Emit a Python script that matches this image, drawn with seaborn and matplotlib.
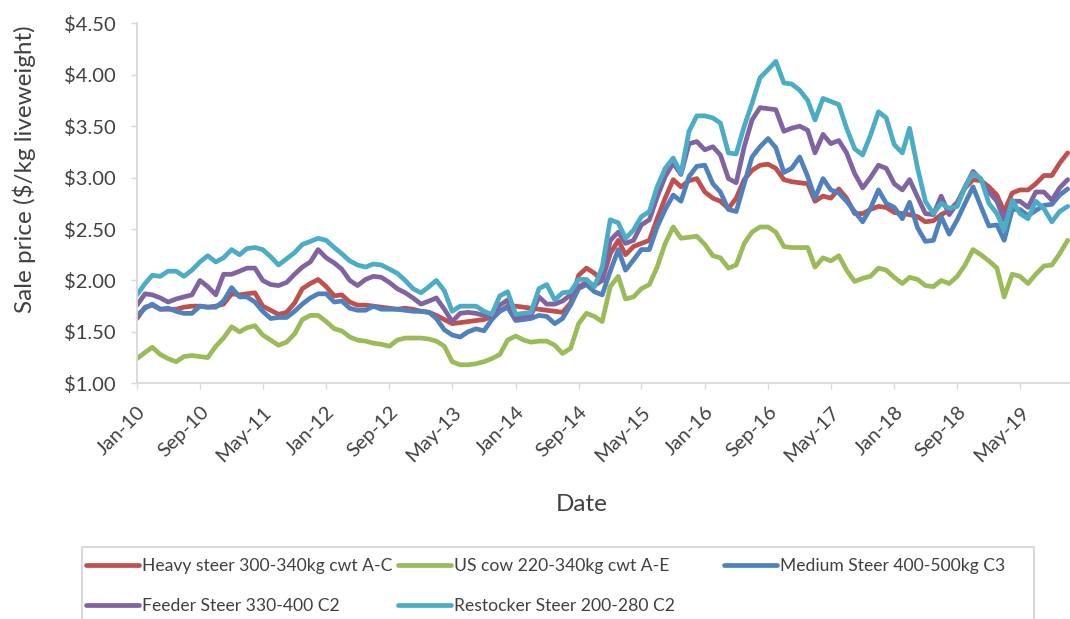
import pandas as pd
import matplotlib
matplotlib.use("Agg")
import matplotlib.pyplot as plt
from matplotlib.patches import Rectangle
import seaborn as sns

# Monthly sale prices ($/kg liveweight), Jan-2010 to Nov-2019
months = pd.date_range("2010-01-01", periods=119, freq="MS")

heavy_steer = [
    1.63, 1.74, 1.76, 1.72, 1.72, 1.72, 1.74, 1.75, 1.75, 1.74,
    1.75, 1.77, 1.87, 1.86, 1.87, 1.88, 1.75, 1.71, 1.67, 1.69,
    1.78, 1.92, 1.97, 2.01, 1.94, 1.85, 1.86, 1.79, 1.76, 1.76,
    1.75, 1.74, 1.73, 1.72, 1.73, 1.72, 1.70, 1.69, 1.66, 1.62,
    1.58, 1.59, 1.60, 1.61, 1.62, 1.65, 1.70, 1.75, 1.75, 1.74,
    1.73, 1.72, 1.71, 1.70, 1.69, 1.78, 2.05, 2.12, 2.07, 2.00,
    2.26, 2.39, 2.25, 2.33, 2.36, 2.39, 2.60, 2.80, 2.98, 2.91,
    2.97, 2.99, 2.86, 2.80, 2.77, 2.70, 2.80, 2.98, 3.07, 3.12,
    3.13, 3.09, 2.98, 2.96, 2.95, 2.94, 2.77, 2.82, 2.80, 2.89,
    2.80, 2.65, 2.65, 2.69, 2.72, 2.71, 2.66, 2.65, 2.64, 2.62,
    2.57, 2.58, 2.64, 2.68, 2.76, 2.90, 2.98, 2.97, 2.91, 2.83,
    2.67, 2.85, 2.88, 2.88, 2.94, 3.02, 3.02, 3.14, 3.24,
]
us_cow = [
    1.24, 1.30, 1.35, 1.28, 1.24, 1.21, 1.26, 1.27, 1.26, 1.25,
    1.36, 1.44, 1.55, 1.50, 1.54, 1.56, 1.47, 1.42, 1.37, 1.40,
    1.48, 1.62, 1.66, 1.66, 1.60, 1.53, 1.51, 1.45, 1.42, 1.41,
    1.39, 1.38, 1.36, 1.42, 1.44, 1.44, 1.44, 1.43, 1.41, 1.36,
    1.21, 1.18, 1.18, 1.19, 1.21, 1.24, 1.28, 1.42, 1.46, 1.42,
    1.40, 1.41, 1.41, 1.37, 1.29, 1.34, 1.58, 1.68, 1.65, 1.60,
    1.94, 2.04, 1.82, 1.84, 1.92, 1.96, 2.13, 2.36, 2.52, 2.41,
    2.42, 2.43, 2.35, 2.24, 2.22, 2.12, 2.15, 2.36, 2.47, 2.52,
    2.52, 2.47, 2.33, 2.32, 2.32, 2.32, 2.13, 2.22, 2.19, 2.24,
    2.10, 1.99, 2.02, 2.04, 2.12, 2.10, 2.03, 1.97, 2.03, 2.01,
    1.95, 1.94, 2.00, 1.97, 2.04, 2.15, 2.30, 2.25, 2.19, 2.12,
    1.84, 2.06, 2.04, 1.97, 2.06, 2.14, 2.15, 2.26, 2.39,
]
medium_steer = [
    1.66, 1.73, 1.77, 1.72, 1.73, 1.70, 1.68, 1.68, 1.75, 1.74,
    1.74, 1.80, 1.93, 1.84, 1.84, 1.79, 1.70, 1.63, 1.64, 1.64,
    1.70, 1.77, 1.83, 1.87, 1.87, 1.79, 1.80, 1.73, 1.71, 1.71,
    1.75, 1.72, 1.72, 1.72, 1.71, 1.70, 1.70, 1.69, 1.63, 1.52,
    1.47, 1.45, 1.50, 1.53, 1.51, 1.62, 1.70, 1.74, 1.61, 1.62,
    1.63, 1.66, 1.65, 1.58, 1.63, 1.76, 1.92, 1.96, 1.89, 1.86,
    2.09, 2.30, 2.10, 2.20, 2.30, 2.30, 2.52, 2.69, 2.83, 2.77,
    3.01, 3.11, 3.12, 2.94, 2.86, 2.69, 2.67, 2.94, 3.20, 3.30,
    3.38, 3.29, 3.05, 3.09, 3.20, 3.01, 2.80, 2.99, 2.88, 2.85,
    2.77, 2.67, 2.57, 2.70, 2.88, 2.75, 2.71, 2.60, 2.76, 2.51,
    2.38, 2.39, 2.62, 2.45, 2.59, 2.75, 2.91, 2.72, 2.53, 2.54,
    2.39, 2.69, 2.69, 2.63, 2.68, 2.73, 2.74, 2.83, 2.89,
]
feeder_steer = [
    1.76, 1.87, 1.86, 1.83, 1.79, 1.82, 1.84, 1.86, 2.00, 1.94,
    1.86, 2.06, 2.06, 2.09, 2.12, 2.12, 2.00, 1.96, 1.95, 1.98,
    2.06, 2.13, 2.18, 2.30, 2.22, 2.17, 2.11, 2.00, 1.95, 2.01,
    2.04, 2.03, 1.98, 1.92, 1.88, 1.83, 1.77, 1.80, 1.83, 1.72,
    1.60, 1.68, 1.69, 1.68, 1.66, 1.65, 1.76, 1.81, 1.63, 1.65,
    1.66, 1.84, 1.77, 1.77, 1.80, 1.86, 1.94, 1.98, 1.95, 2.00,
    2.39, 2.47, 2.36, 2.39, 2.54, 2.59, 2.81, 3.01, 3.14, 3.03,
    3.33, 3.35, 3.27, 3.30, 3.22, 2.99, 2.95, 3.30, 3.56, 3.68,
    3.67, 3.66, 3.45, 3.48, 3.50, 3.46, 3.24, 3.42, 3.33, 3.36,
    3.24, 3.04, 2.90, 3.00, 3.12, 3.09, 2.94, 2.88, 2.98, 2.81,
    2.65, 2.64, 2.82, 2.64, 2.75, 2.91, 3.06, 2.98, 2.86, 2.77,
    2.59, 2.77, 2.77, 2.71, 2.86, 2.86, 2.78, 2.90, 2.98,
]
restocker_steer = [
    1.86, 1.97, 2.05, 2.04, 2.09, 2.09, 2.04, 2.10, 2.18, 2.24,
    2.18, 2.22, 2.30, 2.25, 2.31, 2.32, 2.30, 2.23, 2.15, 2.21,
    2.27, 2.35, 2.38, 2.41, 2.39, 2.32, 2.26, 2.19, 2.15, 2.13,
    2.16, 2.15, 2.11, 2.07, 2.00, 1.92, 1.88, 1.94, 2.00, 1.90,
    1.70, 1.75, 1.75, 1.75, 1.70, 1.67, 1.85, 1.89, 1.67, 1.68,
    1.69, 1.92, 1.96, 1.81, 1.88, 1.89, 2.01, 2.01, 1.94, 2.13,
    2.59, 2.56, 2.41, 2.49, 2.62, 2.67, 2.91, 3.09, 3.19, 3.04,
    3.45, 3.60, 3.60, 3.58, 3.53, 3.24, 3.23, 3.50, 3.72, 3.97,
    4.05, 4.13, 3.92, 3.91, 3.85, 3.75, 3.56, 3.77, 3.74, 3.71,
    3.48, 3.28, 3.22, 3.41, 3.64, 3.58, 3.32, 3.24, 3.48, 3.09,
    2.77, 2.65, 2.75, 2.70, 2.72, 2.91, 3.04, 2.99, 2.75, 2.65,
    2.49, 2.78, 2.65, 2.60, 2.77, 2.70, 2.57, 2.67, 2.72,
]

series_names = [
    "Heavy steer 300-340kg cwt A-C",
    "US cow 220-340kg cwt A-E",
    "Medium Steer 400-500kg C3",
    "Feeder Steer 330-400 C2",
    "Restocker Steer 200-280 C2",
]
series_values = [heavy_steer, us_cow, medium_steer, feeder_steer, restocker_steer]
series_colors = ["#C0504D", "#9BBB59", "#4F81BD", "#8064A2", "#4BACC6"]

y_ticks = [1.00, 1.50, 2.00, 2.50, 3.00, 3.50, 4.00, 4.50]
x_ticks = pd.date_range("2010-01-01", periods=15, freq="8MS")
x_tick_labels = [d.strftime("%b-%y") for d in x_ticks]

# Long-form table for seaborn
frames = []
for name, vals in zip(series_names, series_values):
    frames.append(pd.DataFrame({"Date": months, "Price": vals, "Series": name}))
df = pd.concat(frames, ignore_index=True)

sns.set_theme(style="white")
plt.rcParams["font.family"] = ["Lato", "DejaVu Sans"]
text_color = "#404040"
axis_gray = "#D9D9D9"

W, H = 1070, 619
fig = plt.figure(figsize=(W / 100, H / 100), dpi=100)
ax = fig.add_axes([137 / W, 1 - 383.3 / H, (W - 137) / W, 360 / H])

sns.lineplot(
    data=df, x="Date", y="Price", hue="Series", hue_order=series_names,
    palette=dict(zip(series_names, series_colors)), linewidth=3.4,
    errorbar=None, legend=False, ax=ax,
)
for ln in ax.get_lines():
    ln.set_solid_joinstyle("round")
    ln.set_solid_capstyle("round")

ax.set_xlim(pd.Timestamp("2010-01-01"), pd.Timestamp("2019-11-10"))
ax.set_ylim(1.0, 4.5)
ax.set_yticks(y_ticks)
ax.set_yticklabels([f"${v:.2f}" for v in y_ticks])
ax.set_xticks(x_ticks)
ax.set_xticklabels(x_tick_labels, rotation=45, ha="right", rotation_mode="anchor")

for side in ("top", "right"):
    ax.spines[side].set_visible(False)
for side in ("left", "bottom"):
    ax.spines[side].set_color(axis_gray)
    ax.spines[side].set_linewidth(1.3)

ax.tick_params(axis="y", which="major", direction="out", length=4.3, width=1,
               color=axis_gray, labelsize=14.5, labelcolor=text_color, pad=11, left=True)
ax.tick_params(axis="x", which="major", direction="out", length=4.3, width=1,
               color=axis_gray, labelsize=14.5, labelcolor=text_color, pad=10, bottom=True)
ax.grid(False)

ax.set_xlabel("Date", fontsize=17.5, color=text_color)
ax.set_ylabel("Sale price ($/kg liveweight)", fontsize=17.5, color=text_color)
ax.xaxis.set_label_coords((582 - 137) / (W - 137), (383.3 - 505) / 360)
ax.yaxis.set_label_coords((24 - 137) / (W - 137), (383.3 - 169) / 360)
ax.xaxis.label.set_verticalalignment("center")
ax.yaxis.label.set_verticalalignment("center")

# Legend: bordered box with three columns of entries
lines = ax.get_lines()[:5]
fig.add_artist(Rectangle((82 / W, -0.05), (1034 - 82) / W, (1 - 547 / H) + 0.05,
                         transform=fig.transFigure, facecolor="white",
                         edgecolor=axis_gray, linewidth=1.5, zorder=0))
columns = [([0, 3], 86), ([1, 4], 398), ([2], 724)]
for idx, x0 in columns:
    fig.legend([lines[i] for i in idx], [series_names[i] for i in idx],
               loc="upper left", bbox_to_anchor=(x0 / W, 1 - 558 / H),
               frameon=False, fontsize=12.6, handlelength=3.0, handletextpad=0.2,
               labelspacing=1.35, borderpad=0, borderaxespad=0,
               labelcolor=text_color)

fig.savefig("out.png", dpi=100)
